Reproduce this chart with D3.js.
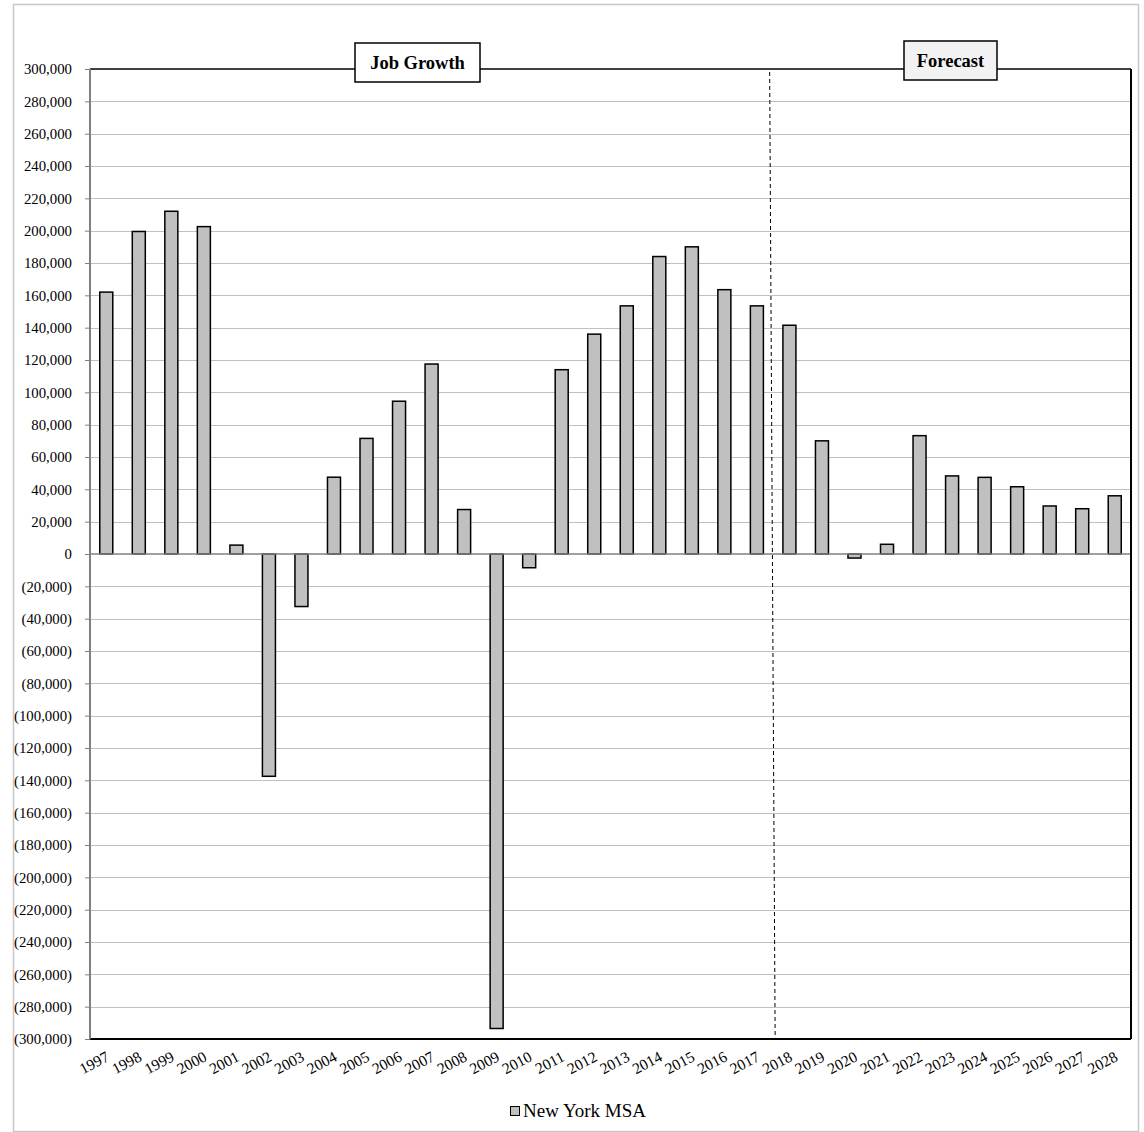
<!DOCTYPE html>
<html><head><meta charset="utf-8">
<script src="https://cdn.jsdelivr.net/npm/d3@7"></script>
<style>body{margin:0;background:#fff;}svg{display:block;font-family:"Liberation Serif","Times New Roman",serif;}</style>
</head><body>
<script>
const years = ["1997","1998","1999","2000","2001","2002","2003","2004","2005","2006","2007","2008","2009","2010","2011","2012","2013","2014","2015","2016","2017","2018","2019","2020","2021","2022","2023","2024","2025","2026","2027","2028"];
const jobGrowth = [162000,199500,212000,202500,5500,-137500,-32500,47500,71500,94500,117500,27500,-293500,-8500,114000,136000,153500,184000,190000,163500,153500,141500,70000,-2500,6000,73200,48300,47400,41600,29700,28000,36000];
const yTicks = d3.range(-300000, 300001, 20000);
const seriesName = "New York MSA";
const boxLabels = ["Job Growth","Forecast"];

const W=1144,H=1132;
const svg=d3.select("body").append("svg").attr("width",W).attr("height",H);
const L=90,R=1131,T=69,B=1039;
svg.append("rect").attr("x",13.5).attr("y",4.5).attr("width",1125).attr("height",1127).attr("fill","#fff").attr("stroke","#c8c8c8").attr("stroke-width",1.5);

const x=d3.scaleBand().domain(years).range([L,R]).paddingInner(0.6).paddingOuter(0.3);
const y=d3.scaleLinear().domain([-300000,300000]).range([B,T]);

// gridlines
svg.append("g").selectAll("line").data(yTicks.filter(d=>d!==0&&d!==300000&&d!==-300000)).join("line")
 .attr("x1",L).attr("x2",R).attr("y1",d=>Math.round(y(d))+0.5).attr("y2",d=>Math.round(y(d))+0.5)
 .attr("stroke","#c0c0c0").attr("stroke-width",1);

// y axis
const fmt=d=>d<0?"("+d3.format(",")(-d)+")":d3.format(",")(d);
const ya=svg.append("g").attr("transform",`translate(${L},0)`).call(d3.axisLeft(y).tickValues(yTicks).tickFormat(fmt).tickSize(5).tickPadding(13));
ya.select(".domain").remove();
ya.selectAll(".tick line").attr("stroke","#808080");
ya.selectAll(".tick text").attr("font-family","Liberation Serif").attr("font-size",14.8).attr("fill","#000");

// bars
svg.append("g").selectAll("rect").data(years).join("rect")
 .attr("x",d=>x(d)).attr("width",x.bandwidth())
 .attr("y",(d,i)=>y(Math.max(0,jobGrowth[i])))
 .attr("height",(d,i)=>Math.abs(y(jobGrowth[i])-y(0)))
 .attr("fill","#c0c0c0").attr("stroke","#000").attr("stroke-width",1.5);

// zero line
svg.append("line").attr("x1",L).attr("x2",R).attr("y1",y(0)).attr("y2",y(0)).attr("stroke","#808080").attr("stroke-width",1.5);

// plot border
svg.append("line").attr("x1",L).attr("x2",R).attr("y1",T).attr("y2",T).attr("stroke","#000").attr("stroke-width",1.5);
svg.append("line").attr("x1",L).attr("x2",R).attr("y1",B).attr("y2",B).attr("stroke","#000").attr("stroke-width",2);
svg.append("line").attr("x1",R).attr("x2",R).attr("y1",T).attr("y2",B).attr("stroke","#000").attr("stroke-width",2);
svg.append("line").attr("x1",L).attr("x2",L).attr("y1",T).attr("y2",B).attr("stroke","#808080").attr("stroke-width",2);

// forecast divider (dashed)
const xDiv=(x("2017")+x.bandwidth()+x("2018"))/2;
svg.append("line").attr("x1",xDiv-3.5).attr("x2",xDiv+2).attr("y1",T+3).attr("y2",B).attr("stroke","#000").attr("stroke-width",1).attr("stroke-dasharray","4,3");

// x labels
svg.append("g").selectAll("text").data(years).join("text")
 .attr("transform",d=>`translate(${x(d)+x.bandwidth()/2+4},${B+21}) rotate(-28)`)
 .attr("text-anchor","end").attr("font-size",15.5).attr("fill","#000").text(d=>d);

// title boxes
const boxes=[{t:boxLabels[0],x:355,y:43,w:125,h:39,fill:"#fff"},{t:boxLabels[1],x:904,y:41,w:93,h:39,fill:"#f2f2f2"}];
boxes.forEach(b=>{
 svg.append("rect").attr("x",b.x).attr("y",b.y).attr("width",b.w).attr("height",b.h).attr("fill",b.fill).attr("stroke","#000").attr("stroke-width",1.5);
 svg.append("text").attr("x",b.x+b.w/2).attr("y",b.y+b.h/2+6).attr("text-anchor","middle").attr("font-weight","bold").attr("font-size",18.5).text(b.t);
});

// legend
svg.append("rect").attr("x",510.5).attr("y",1106.5).attr("width",9).attr("height",9).attr("fill","#c0c0c0").attr("stroke","#000").attr("stroke-width",1);
svg.append("text").attr("x",523).attr("y",1117).attr("font-size",19).attr("fill","#000").text(seriesName);
</script>
</body></html>
